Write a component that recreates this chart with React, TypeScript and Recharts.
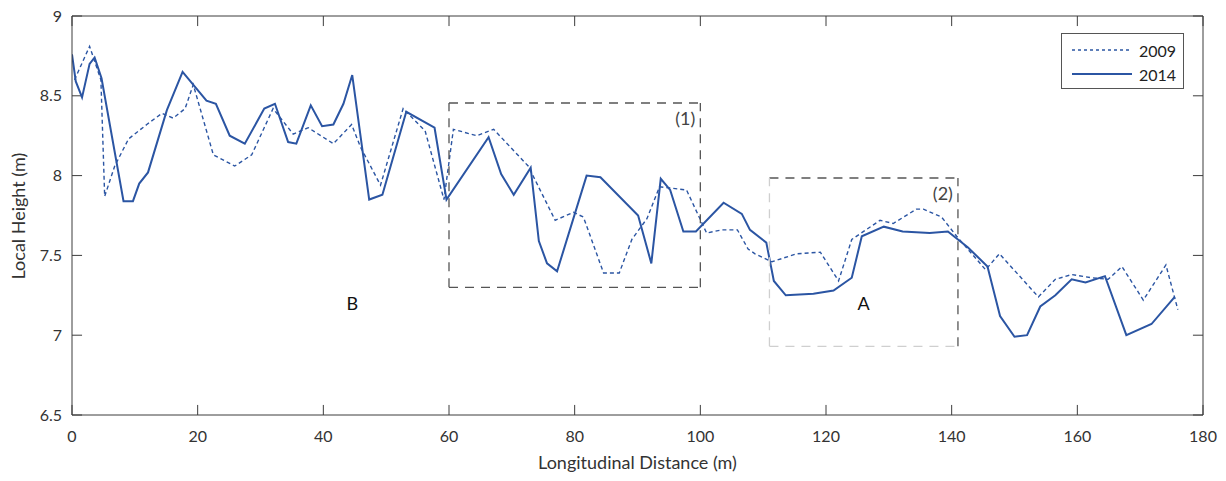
import { LineChart, Line, XAxis, YAxis, ReferenceLine, ReferenceDot, Legend } from 'recharts'

// 2014 survey (solid)
const DIST_2014 = [0, 0.6, 1.6, 2.8, 3.6, 4.7, 8.2, 9.7, 10.7, 12.1, 15.1, 17.6, 21.4, 22.9, 25.1, 27.5, 30.6, 32.3, 34.4, 35.7, 38.0, 39.8, 41.6, 43.2, 44.6, 47.3, 49.4, 53.2, 57.7, 59.6, 66.3, 68.3, 70.3, 73.0, 74.3, 75.6, 77.2, 81.9, 84.1, 90.1, 92.2, 93.7, 95.2, 97.3, 99.3, 103.7, 106.6, 107.9, 110.5, 111.7, 113.6, 118.0, 121.2, 124.1, 125.7, 129.2, 132.2, 136.5, 139.4, 142.6, 145.7, 147.7, 150.0, 152.0, 154.1, 156.5, 159.1, 161.3, 164.4, 167.8, 171.8, 175.5]
const HEIGHT_2014 = [8.76, 8.59, 8.49, 8.70, 8.74, 8.61, 7.84, 7.84, 7.95, 8.02, 8.41, 8.65, 8.47, 8.45, 8.25, 8.20, 8.42, 8.45, 8.21, 8.20, 8.44, 8.31, 8.32, 8.45, 8.63, 7.85, 7.88, 8.40, 8.30, 7.85, 8.24, 8.01, 7.88, 8.05, 7.59, 7.45, 7.40, 8.00, 7.99, 7.75, 7.45, 7.98, 7.91, 7.65, 7.65, 7.83, 7.76, 7.66, 7.58, 7.34, 7.25, 7.26, 7.28, 7.36, 7.62, 7.68, 7.65, 7.64, 7.65, 7.55, 7.43, 7.12, 6.99, 7.0, 7.18, 7.25, 7.35, 7.33, 7.37, 7.00, 7.07, 7.24]

// 2009 survey (dashed)
const DIST_2009 = [0.4, 2.8, 4.6, 5.2, 6.8, 9.0, 11.9, 14.3, 16.1, 18.0, 19.3, 22.5, 25.9, 28.6, 32.0, 35.2, 37.6, 41.6, 44.5, 45.9, 49.1, 52.7, 56.2, 59.2, 60.7, 64.4, 67.1, 72.6, 76.9, 79.8, 81.4, 84.6, 87.1, 89.1, 91.5, 93.5, 97.8, 101.0, 103.4, 105.9, 107.6, 108.7, 111.4, 115.3, 119.1, 122.0, 124.1, 128.6, 130.7, 134.4, 135.5, 138.4, 140.8, 145.4, 147.6, 153.8, 156.5, 159.1, 162.3, 164.9, 167.1, 170.5, 174.1, 176.0]
const HEIGHT_2009 = [8.60, 8.81, 8.60, 7.87, 8.06, 8.23, 8.32, 8.39, 8.36, 8.42, 8.57, 8.13, 8.06, 8.13, 8.42, 8.26, 8.30, 8.20, 8.32, 8.18, 7.94, 8.42, 8.28, 7.85, 8.29, 8.25, 8.29, 8.06, 7.72, 7.77, 7.74, 7.39, 7.39, 7.60, 7.73, 7.93, 7.91, 7.64, 7.66, 7.66, 7.54, 7.51, 7.46, 7.51, 7.52, 7.34, 7.60, 7.72, 7.70, 7.79, 7.79, 7.74, 7.62, 7.41, 7.51, 7.24, 7.35, 7.38, 7.36, 7.35, 7.43, 7.22, 7.44, 7.16]

const X_TICKS = [0, 20, 40, 60, 80, 100, 120, 140, 160, 180]
const Y_TICKS = [6.5, 7, 7.5, 8, 8.5, 9]
const X_DOMAIN = [0, 180]
const Y_DOMAIN = [6.5, 9]

// boxes [x1, x2, y1, y2]
const BOX_1 = [60, 100, 7.3, 8.455]
const BOX_2 = [111, 141, 6.93, 7.985]

const data2014 = DIST_2014.map((d, i) => ({ d, h: HEIGHT_2014[i] }))
const data2009 = DIST_2009.map((d, i) => ({ d, h: HEIGHT_2009[i] }))

const FONT = 'Lato, "Open Sans", sans-serif'
const AXIS = '#3c3c3c'
const BLUE = '#2b55a3'
const DARK_DASH = '#555'
const LIGHT_DASH = '#cfcfcf'
// inward tick length, in data units (~10px)
const TICK_DX = 1.6
const TICK_DY = 0.063

function seg(x1: number, y1: number, x2: number, y2: number, color: string, dash: string, key: string) {
  return (
    <ReferenceLine
      key={key}
      xAxisId="b"
      yAxisId="l"
      segment={[{ x: x1, y: y1 }, { x: x2, y: y2 }]}
      stroke={color}
      strokeWidth={dash ? 1.3 : 1}
      strokeDasharray={dash || undefined}
      ifOverflow="visible"
    />
  )
}

function LegendBox() {
  return (
    <div style={{ width: 123, height: 56, border: '1px solid #555', background: '#fff', fontFamily: FONT, fontSize: 16, color: '#222', boxSizing: 'border-box', padding: '4px 0 0 10px' }}>
      <div style={{ display: 'flex', alignItems: 'center', height: 24 }}>
        <svg width={62} height={4}><line x1={0} y1={2} x2={60} y2={2} stroke={BLUE} strokeWidth={1.3} strokeDasharray="3 3" /></svg>
        <span style={{ marginLeft: 5 }}>2009</span>
      </div>
      <div style={{ display: 'flex', alignItems: 'center', height: 24 }}>
        <svg width={62} height={4}><line x1={0} y1={2} x2={60} y2={2} stroke={BLUE} strokeWidth={2} /></svg>
        <span style={{ marginLeft: 5 }}>2014</span>
      </div>
    </div>
  )
}

export default function App() {
  const tickStyle = { fill: '#333', fontSize: 16, fontFamily: FONT }
  return (
    <div style={{ position: 'absolute', left: 0, top: 0, width: 1226, height: 481, background: '#fff' }}>
      <LineChart width={1226} height={481} margin={{ top: 16, right: 23, bottom: 34, left: 32 }}>
        <XAxis
          xAxisId="b"
          type="number"
          dataKey="d"
          domain={X_DOMAIN}
          ticks={X_TICKS}
          allowDataOverflow
          height={32}
          stroke={AXIS}
          tickLine={false}
          tickMargin={10}
          tick={tickStyle}
          label={{ value: 'Longitudinal Distance (m)', position: 'insideBottom', offset: -22, fill: '#333', fontSize: 18, fontFamily: FONT }}
        />
        <YAxis
          yAxisId="l"
          type="number"
          domain={Y_DOMAIN}
          ticks={Y_TICKS}
          width={40}
          stroke={AXIS}
          tickLine={false}
          tickMargin={4}
          tick={tickStyle}
          label={{ value: 'Local Height (m)', angle: -90, position: 'insideLeft', offset: -13, dy: 64, fill: '#333', fontSize: 18, fontFamily: FONT }}
        />

        {/* box frame */}
        {seg(X_DOMAIN[0], Y_DOMAIN[1], X_DOMAIN[1], Y_DOMAIN[1], AXIS, '', 'ft')}
        {seg(X_DOMAIN[1], Y_DOMAIN[0], X_DOMAIN[1], Y_DOMAIN[1], AXIS, '', 'fr')}

        {/* inward ticks on all four sides */}
        {X_TICKS.map((t) => seg(t, Y_DOMAIN[0], t, Y_DOMAIN[0] + TICK_DY, AXIS, '', `xb${t}`))}
        {X_TICKS.map((t) => seg(t, Y_DOMAIN[1], t, Y_DOMAIN[1] - TICK_DY, AXIS, '', `xt${t}`))}
        {Y_TICKS.map((t) => seg(X_DOMAIN[0], t, X_DOMAIN[0] + TICK_DX, t, AXIS, '', `yl${t}`))}
        {Y_TICKS.map((t) => seg(X_DOMAIN[1], t, X_DOMAIN[1] - TICK_DX, t, AXIS, '', `yr${t}`))}

        <Line xAxisId="b" yAxisId="l" data={data2009} dataKey="h" name="2009" stroke={BLUE} strokeWidth={1.4} strokeDasharray="4 3" dot={false} isAnimationActive={false} />
        <Line xAxisId="b" yAxisId="l" data={data2014} dataKey="h" name="2014" stroke={BLUE} strokeWidth={2} dot={false} isAnimationActive={false} />

        {seg(BOX_1[0], BOX_1[3], BOX_1[1], BOX_1[3], DARK_DASH, '9 7', 'b1t')}
        {seg(BOX_1[0], BOX_1[2], BOX_1[1], BOX_1[2], DARK_DASH, '9 7', 'b1b')}
        {seg(BOX_1[0], BOX_1[2], BOX_1[0], BOX_1[3], DARK_DASH, '9 7', 'b1l')}
        {seg(BOX_1[1], BOX_1[2], BOX_1[1], BOX_1[3], DARK_DASH, '9 7', 'b1r')}
        {seg(BOX_2[0], BOX_2[3], BOX_2[1], BOX_2[3], DARK_DASH, '9 7', 'b2t')}
        {seg(BOX_2[0], BOX_2[2], BOX_2[1], BOX_2[2], LIGHT_DASH, '9 7', 'b2b')}
        {seg(BOX_2[0], BOX_2[2], BOX_2[0], BOX_2[3], LIGHT_DASH, '9 7', 'b2l')}
        {seg(BOX_2[1], BOX_2[2], BOX_2[1], BOX_2[3], DARK_DASH, '9 7', 'b2r')}

        <ReferenceDot xAxisId="b" yAxisId="l" x={44.6} y={7.2} r={0} fill="none" stroke="none" label={{ value: 'B', fill: '#111', fontSize: 18, fontFamily: FONT }} />
        <ReferenceDot xAxisId="b" yAxisId="l" x={126} y={7.2} r={0} fill="none" stroke="none" label={{ value: 'A', fill: '#111', fontSize: 18, fontFamily: FONT }} />
        <ReferenceDot xAxisId="b" yAxisId="l" x={97.6} y={8.36} r={0} fill="none" stroke="none" label={{ value: '(1)', fill: '#444', fontSize: 18, fontFamily: FONT }} />
        <ReferenceDot xAxisId="b" yAxisId="l" x={138.6} y={7.89} r={0} fill="none" stroke="none" label={{ value: '(2)', fill: '#444', fontSize: 18, fontFamily: FONT }} />

        <Legend layout="vertical" align="center" verticalAlign="middle" content={() => <LegendBox />} wrapperStyle={{ position: 'absolute', left: 1061, top: 33, width: 123, height: 56 }} />
      </LineChart>
    </div>
  )
}
